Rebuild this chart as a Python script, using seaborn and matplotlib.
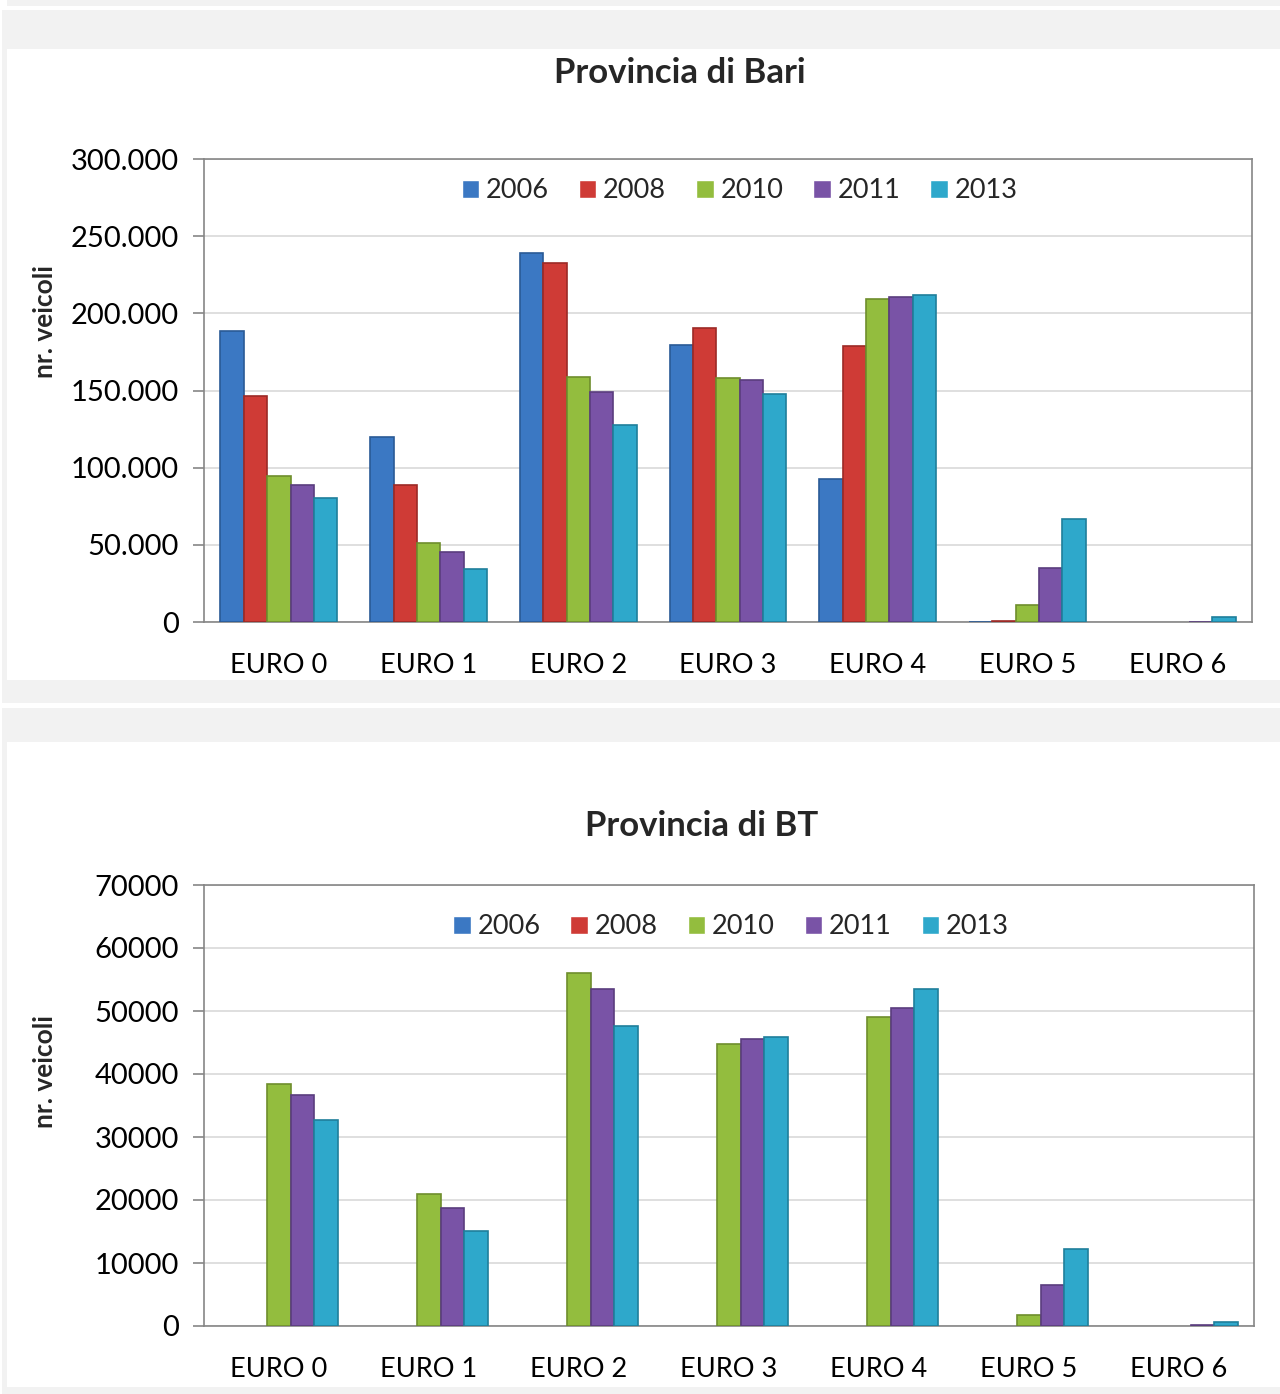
#!/usr/bin/env python3
# -*- coding: utf-8 -*-
"""
Parco veicolare per classe EURO - Provincia di Bari e Provincia di BT
"""

#%% Import modules

import numpy as np
import pandas as pd
import seaborn as sns
import matplotlib.pyplot as plt
from matplotlib.patches import Rectangle
from matplotlib.ticker import FuncFormatter, MultipleLocator


#%% Data

classes = ['EURO 0', 'EURO 1', 'EURO 2', 'EURO 3', 'EURO 4', 'EURO 5', 'EURO 6']
years = ['2006', '2008', '2010', '2011', '2013']

bari_2006 = [188800, 119900, 239300, 179700, 92500, 300, 0]
bari_2008 = [146700, 89000, 232900, 190500, 178900, 800, 0]
bari_2010 = [94800, 51000, 159000, 158300, 209100, 11000, 0]
bari_2011 = [89000, 45200, 148900, 156600, 210600, 35200, 200]
bari_2013 = [80200, 34200, 127700, 147600, 212100, 66800, 3500]

bt_2006 = [0, 0, 0, 0, 0, 0, 0]
bt_2008 = [0, 0, 0, 0, 0, 0, 0]
bt_2010 = [38400, 20950, 56100, 44800, 49100, 1750, 0]
bt_2011 = [36600, 18800, 53500, 45600, 50400, 6500, 100]
bt_2013 = [32700, 15100, 47600, 45800, 53500, 12200, 700]

palette = ['#3b78c3', '#cf3b36', '#93bd3e', '#7953a6', '#2ea8cb']
edges = ['#2a5a96', '#9c2a26', '#6e8e2c', '#5a3d7e', '#1f7f9b']


def to_long(series):
    rows = []
    for year, vals in zip(years, series):
        for cls, v in zip(classes, vals):
            rows.append({'classe': cls, 'anno': year, 'veicoli': v})
    return pd.DataFrame(rows)


df_bari = to_long([bari_2006, bari_2008, bari_2010, bari_2011, bari_2013])
df_bt = to_long([bt_2006, bt_2008, bt_2010, bt_2011, bt_2013])


#%% Figure

sns.set_style('white')
plt.rcParams['font.family'] = ['Lato', 'DejaVu Sans']

W, H = 1280, 1394
fig = plt.figure(figsize=(W / 100, H / 100), dpi=100, facecolor='white')


def px_rect(x0, y0, x1, y1, color):
    fig.patches.append(Rectangle((x0 / W, 1 - y1 / H), (x1 - x0) / W, (y1 - y0) / H,
                                 transform=fig.transFigure, facecolor=color,
                                 edgecolor='none', zorder=-10))


# panel backgrounds
px_rect(7, 0, W, 6, '#f2f2f2')
px_rect(2, 10, W, 703, '#f2f2f2')
px_rect(7, 49, W, 680, 'white')
px_rect(2, 708, W, H, '#f2f2f2')
px_rect(7, 742, W, 1387, 'white')

ax_top = fig.add_axes([204 / W, 1 - 622 / H, (1252 - 204) / W, (622 - 159) / H])
ax_bot = fig.add_axes([204 / W, 1 - 1326 / H, (1254 - 204) / W, (1326 - 885) / H])

setups = [
    (ax_top, df_bari, 300000, 50000, lambda v, p: f'{int(v):,}'.replace(',', '.'), 0.931, 0.511),
    (ax_bot, df_bt, 70000, 10000, lambda v, p: f'{int(v)}', 0.905, 0.502),
]

for ax, df, ymax, step, fmt, leg_y, leg_x in setups:
    sns.barplot(data=df, x='classe', y='veicoli', hue='anno', palette=palette,
                errorbar=None, width=0.78, saturation=1, ax=ax, zorder=3)
    # darker edges for the bar sides, none on empty bars
    for container, ec in zip(ax.containers, edges):
        for bar in container:
            bar.set_edgecolor(ec)
            bar.set_linewidth(1.2 if bar.get_height() > 0 else 0)
    ax.set_ylim(0, ymax)
    ax.yaxis.set_major_locator(MultipleLocator(step))
    ax.yaxis.set_major_formatter(FuncFormatter(fmt))
    ax.grid(axis='y', color='#d9d9d9', linewidth=1.2, zorder=0)
    ax.set_axisbelow(True)
    for s in ax.spines.values():
        s.set_visible(True)
        s.set_color('#868686')
        s.set_linewidth(1.2)
    ax.set_xlabel('')
    ax.set_ylabel('')
    ax.tick_params(axis='x', length=0, pad=22, labelsize=19.5, labelcolor='black')
    ax.tick_params(axis='y', length=8, width=1.2, color='#868686', pad=10,
                   labelsize=21, labelcolor='black', left=True)
    handles, labels = ax.get_legend_handles_labels()
    ax.legend(handles, labels, ncol=5, loc='center', bbox_to_anchor=(leg_x, leg_y),
              frameon=False, fontsize=19.5, handlelength=0.65, handleheight=0.65,
              handletextpad=0.25, columnspacing=1.1)

fig.text(680 / W, 1 - 73 / H, 'Provincia di Bari', ha='center', va='center',
         fontsize=25, fontweight='bold')
fig.text(702 / W, 1 - 826 / H, 'Provincia di BT', ha='center', va='center',
         fontsize=25, fontweight='bold')
fig.text(45 / W, 1 - 322 / H, 'nr. veicoli', ha='center', va='center', rotation=90,
         fontsize=19, fontweight='bold')
fig.text(45 / W, 1 - 1072 / H, 'nr. veicoli', ha='center', va='center', rotation=90,
         fontsize=19, fontweight='bold')

fig.savefig('out.png', dpi=100, facecolor='white')
